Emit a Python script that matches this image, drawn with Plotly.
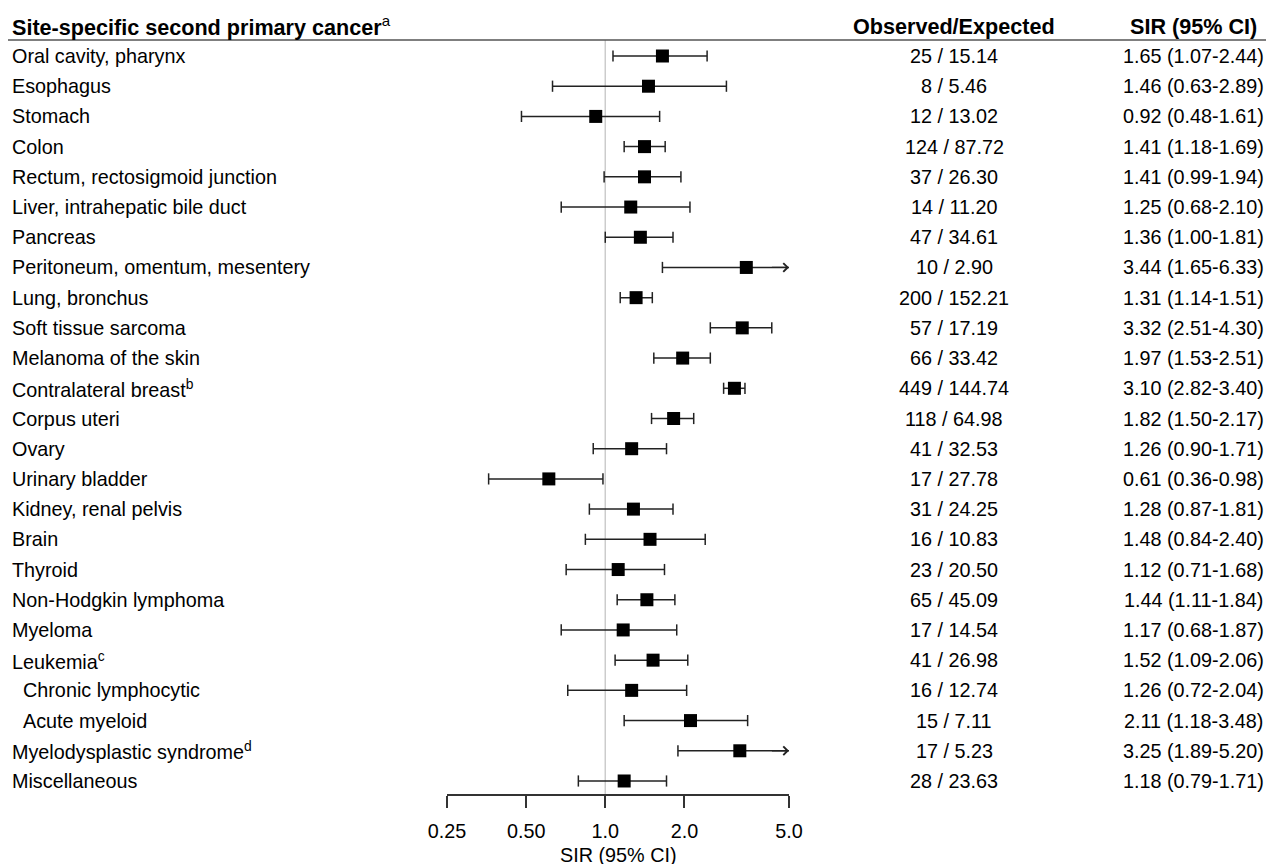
import numpy as np
import plotly.graph_objects as go

# ---------------- data ----------------
sites = [
    "Oral cavity, pharynx", "Esophagus", "Stomach", "Colon",
    "Rectum, rectosigmoid junction", "Liver, intrahepatic bile duct", "Pancreas",
    "Peritoneum, omentum, mesentery", "Lung, bronchus", "Soft tissue sarcoma",
    "Melanoma of the skin", "Contralateral breast<sup>b</sup>", "Corpus uteri", "Ovary",
    "Urinary bladder", "Kidney, renal pelvis", "Brain", "Thyroid",
    "Non-Hodgkin lymphoma", "Myeloma", "Leukemia<sup>c</sup>", "Chronic lymphocytic",
    "Acute myeloid", "Myelodysplastic syndrome<sup>d</sup>", "Miscellaneous",
]
indented = [False] * 21 + [True, True] + [False, False]
observed = [25, 8, 12, 124, 37, 14, 47, 10, 200, 57, 66, 449, 118, 41, 17, 31, 16, 23, 65, 17, 41, 16, 15, 17, 28]
expected = [15.14, 5.46, 13.02, 87.72, 26.30, 11.20, 34.61, 2.90, 152.21, 17.19, 33.42, 144.74, 64.98,
            32.53, 27.78, 24.25, 10.83, 20.50, 45.09, 14.54, 26.98, 12.74, 7.11, 5.23, 23.63]
sir = [1.65, 1.46, 0.92, 1.41, 1.41, 1.25, 1.36, 3.44, 1.31, 3.32, 1.97, 3.10, 1.82,
       1.26, 0.61, 1.28, 1.48, 1.12, 1.44, 1.17, 1.52, 1.26, 2.11, 3.25, 1.18]
ci_low = [1.07, 0.63, 0.48, 1.18, 0.99, 0.68, 1.00, 1.65, 1.14, 2.51, 1.53, 2.82, 1.50,
          0.90, 0.36, 0.87, 0.84, 0.71, 1.11, 0.68, 1.09, 0.72, 1.18, 1.89, 0.79]
ci_high = [2.44, 2.89, 1.61, 1.69, 1.94, 2.10, 1.81, 6.33, 1.51, 4.30, 2.51, 3.40, 2.17,
           1.71, 0.98, 1.81, 2.40, 1.68, 1.84, 1.87, 2.06, 2.04, 3.48, 5.20, 1.71]
tick_vals = [0.25, 0.5, 1.0, 2.0, 5.0]
tick_text = ["0.25", "0.50", "1.0", "2.0", "5.0"]
axis_min, axis_max = 0.25, 5.0
ref_value = 1.0

# ---------------- layout helpers ----------------
W, H = 1266, 864
ROW0, PITCH = 56, 30.208
n = len(sites)
rows = list(range(n))
FONT = "Liberation Sans, Arial, sans-serif"
BODY = 19.8
HEAD = 21.6

def py(p):  # pixel -> y data value (row units)
    return (p - ROW0) / PITCH

fig = go.Figure()

# reference line at SIR = 1
fig.add_trace(go.Scatter(x=[ref_value, ref_value], y=[py(40), py(795)], mode="lines",
                         line=dict(color="#cccccc", width=1.5), hoverinfo="skip", showlegend=False))

# CI lines
hi_clip = [min(h, axis_max) for h in ci_high]
lx, ly = [], []
for i in rows:
    lx += [ci_low[i], hi_clip[i], None]
    ly += [i, i, None]
fig.add_trace(go.Scatter(x=lx, y=ly, mode="lines", line=dict(color="#222222", width=1.5),
                         hoverinfo="skip", showlegend=False))

# caps
cx, cy = [], []
for i in rows:
    cx.append(ci_low[i]); cy.append(i)
    if ci_high[i] <= axis_max:
        cx.append(ci_high[i]); cy.append(i)
fig.add_trace(go.Scatter(x=cx, y=cy, mode="markers",
                         marker=dict(symbol="line-ns", size=8, line=dict(color="#222222", width=1.5)),
                         hoverinfo="skip", showlegend=False))

# point estimates
fig.add_trace(go.Scatter(x=sir, y=rows, mode="markers",
                         marker=dict(symbol="square", size=13, color="black", line=dict(width=0)),
                         showlegend=False))

ann = []
# arrows for truncated CIs
for i in rows:
    if ci_high[i] > axis_max:
        ann.append(dict(x=np.log10(axis_max), y=i, ax=np.log10(axis_max * 0.85), ay=i,
                        xref="x", yref="y", axref="x", ayref="y", text="", showarrow=True,
                        arrowhead=4, arrowsize=1.3, arrowwidth=1.3, arrowcolor="#222222", standoff=0))

# row texts
for i in rows:
    ann.append(dict(x=(21 if indented[i] else 10) / W, y=i, xref="paper", yref="y",
                    text=sites[i], showarrow=False, xanchor="left", yanchor="middle",
                    font=dict(size=BODY, color="black", family=FONT)))
    ann.append(dict(x=954 / W, y=i, xref="paper", yref="y",
                    text=f"{observed[i]} / {expected[i]:.2f}", showarrow=False, xanchor="center",
                    yanchor="middle", font=dict(size=BODY, color="black", family=FONT)))
    ann.append(dict(x=1193 / W, y=i, xref="paper", yref="y",
                    text=f"{sir[i]:.2f} ({ci_low[i]:.2f}-{ci_high[i]:.2f})", showarrow=False,
                    xanchor="center", yanchor="middle", font=dict(size=BODY, color="black", family=FONT)))

# headers
ann.append(dict(x=10 / W, y=py(26), xref="paper", yref="y", text="<b>Site-specific second primary cancer</b><sup>a</sup>",
                showarrow=False, xanchor="left", yanchor="middle", font=dict(size=HEAD, color="black", family=FONT)))
ann.append(dict(x=954 / W, y=py(26), xref="paper", yref="y", text="<b>Observed/Expected</b>",
                showarrow=False, xanchor="center", yanchor="middle", font=dict(size=HEAD, color="black", family=FONT)))
ann.append(dict(x=1193 / W, y=py(26), xref="paper", yref="y", text="<b>SIR (95% CI)</b>",
                showarrow=False, xanchor="center", yanchor="middle", font=dict(size=HEAD, color="black", family=FONT)))
# axis title
ann.append(dict(x=618 / W, y=1 - 855 / H, xref="paper", yref="paper", text="SIR (95% CI)",
                showarrow=False, xanchor="center", yanchor="middle", font=dict(size=BODY, color="black", family=FONT)))

fig.update_layout(
    width=W, height=H, autosize=False,
    margin=dict(l=0, r=0, t=0, b=0, pad=0, autoexpand=False),
    paper_bgcolor="white", plot_bgcolor="rgba(0,0,0,0)",
    annotations=ann, showlegend=False,
    shapes=[dict(type="line", xref="paper", yref="paper", x0=8 / W, x1=1, y0=1 - 40 / H, y1=1 - 40 / H,
                 line=dict(color="#555555", width=1.5))],
    xaxis=dict(type="log", range=[np.log10(axis_min), np.log10(axis_max)],
               domain=[447 / W, 789 / W], anchor="free", position=1 - 795 / H,
               showline=True, linecolor="#333333", linewidth=1.5, mirror=False,
               ticks="outside", ticklen=12, tickwidth=1.5, tickcolor="#333333",
               ticklabelstandoff=6,
               tickvals=tick_vals, ticktext=tick_text, showgrid=False, zeroline=False,
               tickfont=dict(size=BODY, color="black", family=FONT)),
    yaxis=dict(range=[py(H), py(0)], domain=[0, 1], visible=False, showgrid=False, zeroline=False),
    hovermode=False,
)

fig.write_html("out.html", config={"responsive": False, "displayModeBar": False},
               post_script="document.body.style.margin='0';document.body.style.overflow='hidden';")
